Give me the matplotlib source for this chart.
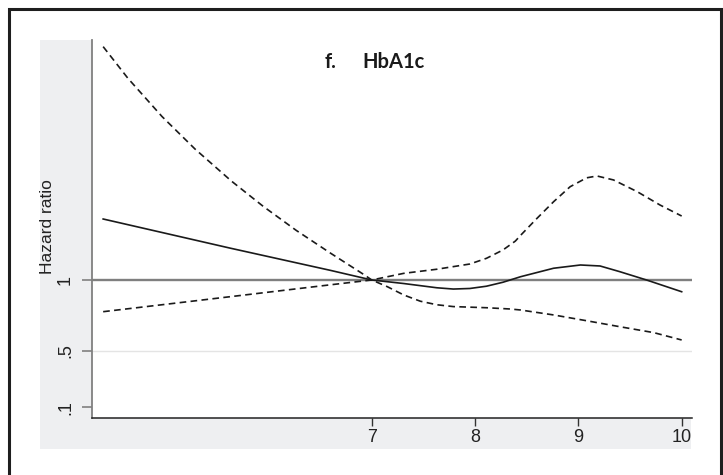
import matplotlib
matplotlib.use('Agg')
import matplotlib.pyplot as plt
from matplotlib.patches import Rectangle
from matplotlib.lines import Line2D

# values (HbA1c, hazard ratio)
hr_x = [4.40, 5.63, 6.60, 7.00, 7.31, 7.63, 7.79, 7.95, 8.11, 8.27, 8.44, 8.76,
        9.02, 9.21, 9.40, 9.66, 10.0]
hr_y = [1.431, 1.225, 1.068, 1.0, 0.975, 0.945, 0.936, 0.940, 0.956, 0.984, 1.023,
        1.083, 1.106, 1.099, 1.059, 1.0, 0.917]

upper_x = [4.40, 4.64, 4.97, 5.29, 5.64, 5.95, 6.27, 6.60, 6.92, 7.00, 7.31, 7.63,
           7.95, 8.11, 8.27, 8.39, 8.44, 8.60, 8.76, 8.92, 9.08, 9.18, 9.34, 9.57,
           9.79, 10.0]
upper_y = [2.649, 2.425, 2.155, 1.925, 1.700, 1.520, 1.350, 1.190, 1.040, 1.0, 1.047,
           1.076, 1.113, 1.153, 1.212, 1.275, 1.315, 1.436, 1.553, 1.659, 1.722,
           1.735, 1.707, 1.624, 1.530, 1.452]

lower_x = [4.40, 5.63, 6.60, 7.00, 7.15, 7.31, 7.47, 7.63, 7.79, 8.11, 8.34, 8.44,
           8.76, 9.08, 9.40, 9.73, 10.0]
lower_y = [0.776, 0.882, 0.966, 1.0, 0.953, 0.894, 0.850, 0.825, 0.812, 0.804, 0.795,
           0.788, 0.753, 0.712, 0.670, 0.628, 0.576]

xticks = [7, 8, 9, 10]
yticks = [0.1, 0.5, 1]
ytick_labels = ['.1', '.5', '1']

W, H = 723, 475
def fx(px):
    return px / W
def fy(py):
    return 1 - py / H

fig = plt.figure(figsize=(7.23, 4.75), dpi=100)

# stata-like gray graph region
fig.patches.append(Rectangle((fx(40), fy(449)), fx(691) - fx(40), fy(40) - fy(449),
                             transform=fig.transFigure, facecolor='#eeeff1',
                             edgecolor='none', zorder=-5))

ax = fig.add_axes([fx(92), fy(418), fx(692) - fx(92), fy(40) - fy(418)])
ax.set_zorder(1)
ax.set_facecolor('white')
ax.set_xlim(4.292, 10.10)
ax.set_ylim(0.0247, 2.696)

ax.axhline(0.5, color='#e4e4e4', lw=1.0, zorder=1)
ax.axhline(1, color='#7f7f7f', lw=1.7, zorder=2)

ax.plot(hr_x, hr_y, color='#1a1a1a', lw=1.2, zorder=3)
ax.plot(upper_x, upper_y, color='#1a1a1a', lw=1.2, dashes=(4.0, 2.6), zorder=3)
ax.plot(lower_x, lower_y, color='#1a1a1a', lw=1.2, dashes=(4.0, 2.6), zorder=3)

for s in ['top', 'right']:
    ax.spines[s].set_visible(False)
ax.spines['left'].set_color('#808080')
ax.spines['left'].set_linewidth(1.3)
ax.spines['bottom'].set_color('#222222')
ax.spines['bottom'].set_linewidth(1.1)

ax.set_xticks(xticks)
ax.set_xticklabels([str(t) for t in xticks], fontsize=13, family='Liberation Sans')
ax.set_yticks(yticks)
ax.set_yticklabels(ytick_labels, fontsize=13, family='Liberation Sans',
                   rotation=90, va='center')
ax.tick_params(axis='x', length=6, width=1, color='#333333', labelcolor='#222222', pad=2)
ax.tick_params(axis='y', length=7, width=1.2, color='#808080', labelcolor='#222222', pad=6)

fig.text(fx(47), fy(227), 'Hazard ratio', rotation=90, ha='center', va='center',
         fontsize=12.5, family='Liberation Sans', color='#222222', zorder=2)

fig.text(fx(325), fy(68), 'f.', fontsize=14.5, fontweight='bold', family='Lato',
         va='baseline', color='#1a1a1a', zorder=5)
fig.text(fx(362), fy(68), 'HbA1c', fontsize=14.5, fontweight='bold', family='Lato',
         va='baseline', color='#1a1a1a', zorder=5)

# outer frame (left, top, right)
fig.add_artist(Line2D([fx(8.8), fx(8.8), fx(721.4), fx(721.4)],
                      [0, fy(8.6), fy(8.6), 0], transform=fig.transFigure,
                      color='#1e1e1e', lw=2.2, solid_joinstyle='miter', zorder=5))

fig.savefig('out.png', dpi=100)
